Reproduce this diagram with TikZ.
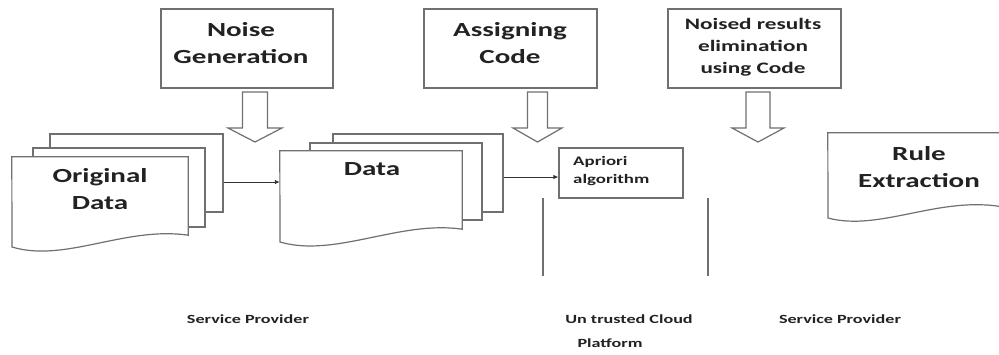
\documentclass[tikz,border=0pt]{standalone}
\usepackage{fontspec}
\newfontfamily\wf[FakeStretch=1.45]{Carlito}
\usetikzlibrary{arrows.meta}
\definecolor{lgray}{HTML}{707070}
\definecolor{txt}{HTML}{222222}
\definecolor{cgray}{HTML}{333333}
\begin{document}
\begin{tikzpicture}[x=1pt,y=-1pt,
  ln/.style={draw=lgray, line width=1.2pt},
  box/.style={ln, fill=white, rectangle, inner sep=0pt},
  ghost/.style={rectangle, inner sep=0pt},
  big/.style={font=\wf\bfseries\fontsize{20}{27}\selectfont, text=txt, align=center, inner sep=0pt},
  mid/.style={font=\wf\bfseries\fontsize{16}{22}\selectfont, text=txt, align=center, inner sep=0pt},
  sml/.style={font=\wf\bfseries\fontsize{13}{18}\selectfont, text=txt, align=left, inner sep=0pt},
  lbl/.style={font=\wf\bfseries\fontsize{12.5}{15}\selectfont, text=txt, inner sep=0pt},
  conn/.style={draw=cgray, line width=0.9pt, -{Latex[length=5pt,width=4.5pt]}},
  hollow/.style={ln, fill=white, line join=miter}
]
\clip (0,0) rectangle (999,354);
\fill[white] (0,0) rectangle (999,354);

% top boxes
\node[box, minimum width=172pt, minimum height=79pt] (noise) at (247,48.5) {};
\node[big] (noiseT) at (241,43.5) {Noise\\Generation};
\node[box, minimum width=173pt, minimum height=79pt] (assign) at (510.5,48.5) {};
\node[big] (assignT) at (510,43.5) {Assigning\\Code};
\node[box, minimum width=173pt, minimum height=79pt] (elim) at (754.5,48.5) {};
\node[mid] (elimT) at (753,47) {Noised results\\elimination\\using Code};

% hollow arrows
\draw[hollow] (242.5,92) -- (267.5,92) -- (267.5,128) -- (282,128) -- (255,142) -- (228,128) -- (242.5,128) -- cycle;
\draw[hollow] (527.5,92) -- (547.5,92) -- (547.5,128) -- (562,128) -- (537.5,142) -- (513,128) -- (527.5,128) -- cycle;
\draw[hollow] (746,92) -- (770,92) -- (770,128) -- (784,128) -- (758,142) -- (732,128) -- (746,128) -- cycle;

% Original data stack
\node[box, minimum width=173pt, minimum height=78pt] (ob3) at (136.5,173) {};
\node[box, minimum width=172pt, minimum height=79pt] (ob2) at (119,187.5) {};
\node[ghost, minimum width=176pt, minimum height=78pt] (of) at (100,196) {};
\draw[ln, fill=white] (of.north west) -- (of.north east) -- (of.south east)
  .. controls (125,226) and (65,263) .. (12,247) -- cycle;
\node[big] (ofT) at (100,189) {Original\\Data};

% Data stack
\node[box, minimum width=170pt, minimum height=78pt] (db3) at (418,173) {};
\node[box, minimum width=172pt, minimum height=77pt] (db2) at (396,181.5) {};
\node[ghost, minimum width=182pt, minimum height=78pt] (df) at (371,190) {};
\draw[ln, fill=white] (df.north west) -- (df.north east) -- (df.south east)
  .. controls (400,220) and (335,258) .. (280,242) -- cycle;
\node[big] (dfT) at (372,169) {Data};

% Apriori
\node[box, minimum width=124pt, minimum height=50pt] (apr) at (621,173) {};
\node[sml, anchor=west] (aprT) at (573,171) {Apriori\\algorithm};

% Rule extraction
\node[ghost, minimum width=176pt, minimum height=74pt] (re) at (916,170) {};
\draw[ln, fill=white] (re.north west) -- (re.north east) -- (re.south east)
  .. controls (940,195) and (880,232) .. (828,218) -- cycle;
\node[big] (reT) at (919,167) {Rule\\Extraction};

% connectors
\path ([yshift=-9pt]ob3.east) coordinate (c1);
\draw[conn] (c1) -- (c1 -| df.west);
\path ([yshift=-4pt]db3.east) coordinate (c2);
\draw[conn] (c2) -- (c2 -| apr.west);

% separators
\coordinate (s1t) at (543,198);
\coordinate (s1b) at (543,276);
\coordinate (s2t) at (708,198);
\coordinate (s2b) at (708,276);
\draw[ln] (s1t) -- (s1b);
\draw[ln] (s2t) -- (s2b);

% labels
\node[lbl] (sp1) at (248,319) {Service Provider};
\node[lbl] (uc) at (629,319) {Un trusted Cloud};
\node[lbl] (pf) at (610,343) {Platform};
\node[lbl] (sp2) at (840,319) {Service Provider};
\end{tikzpicture}
\end{document}
